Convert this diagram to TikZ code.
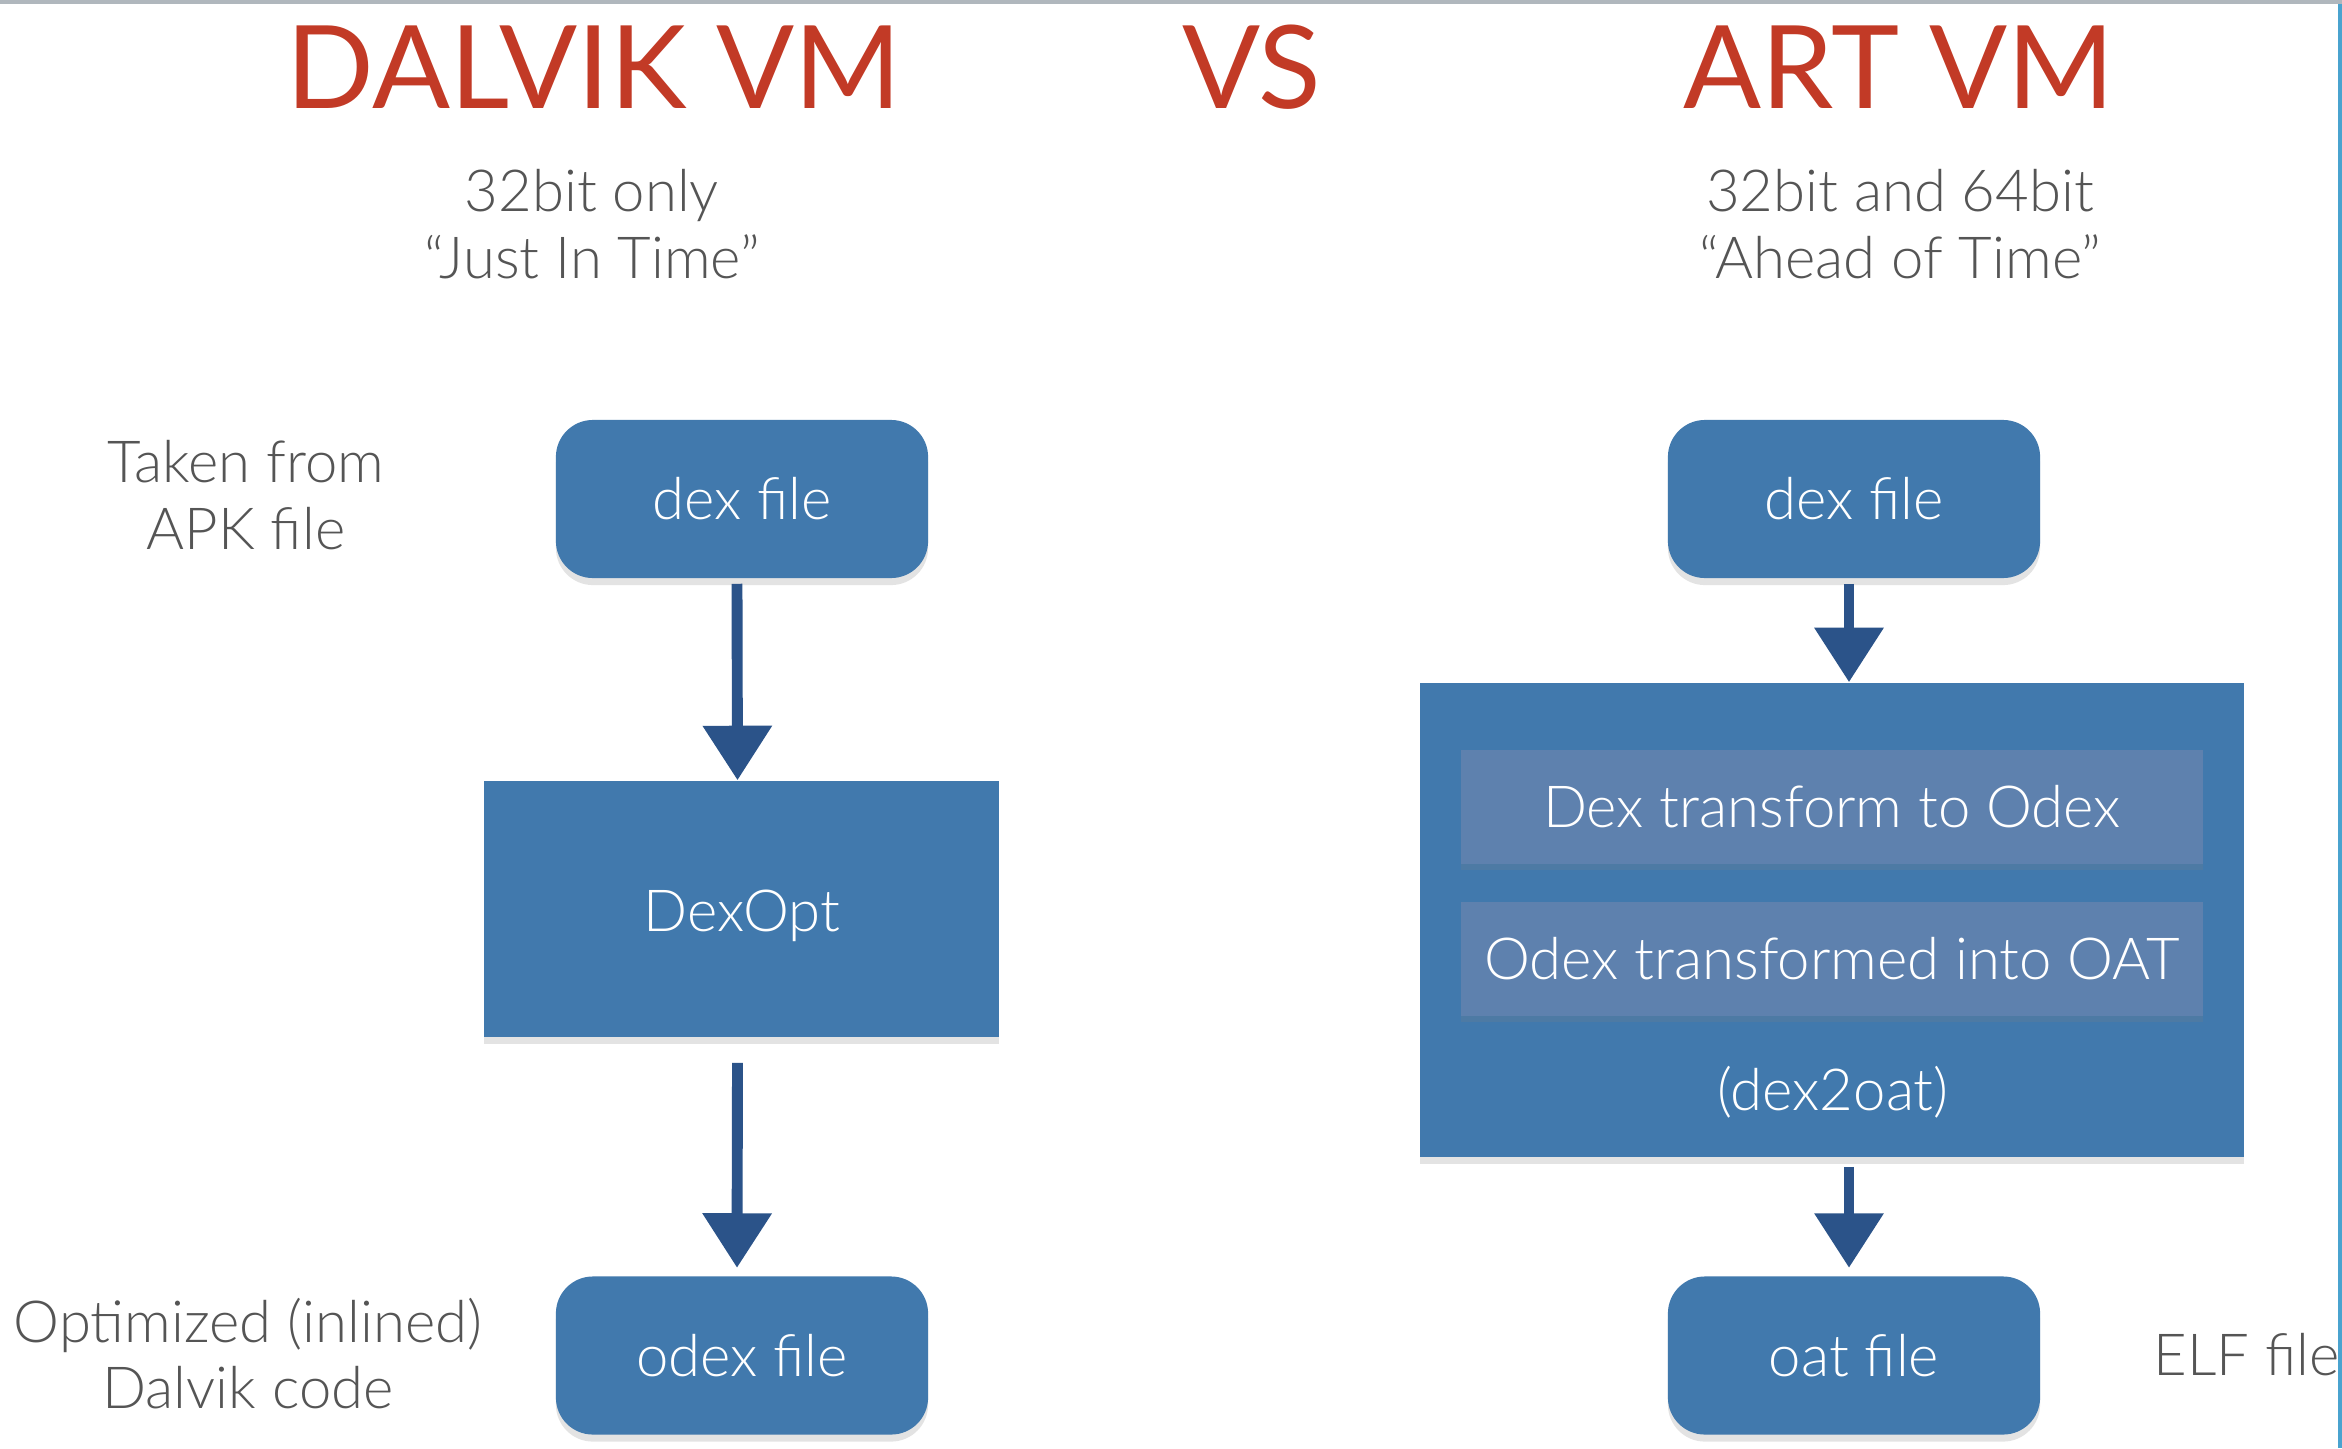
\documentclass[tikz,border=0pt]{standalone}
\usepackage{fontspec}
\setmainfont{Lato}
\newfontfamily\thinfont{Lato Light}
\usetikzlibrary{arrows.meta,shadows,calc}
\definecolor{boxblue}{HTML}{4179AD}
\definecolor{innerblue}{HTML}{5E81AE}
\definecolor{arrowblue}{HTML}{2B5389}
\definecolor{titlered}{HTML}{C23A26}
\definecolor{labelgray}{HTML}{555555}
\definecolor{topgray}{HTML}{B0B7BD}
\definecolor{sideblue}{HTML}{4AA3CF}
\tikzset{
  bodytext/.style={font=\thinfont\fontsize{16.5}{19}\selectfont},
  titletext/.style={font=\fontsize{32.8}{40}\selectfont, text=titlered, inner sep=0pt, anchor=base},
  subtext/.style={bodytext, text=labelgray, inner sep=0pt, anchor=base, align=center},
  roundbox/.style={bodytext, fill=boxblue, text=white, rounded corners=0.37cm,
    minimum width=3.72cm, minimum height=1.58cm, inner sep=0pt,
    drop shadow={opacity=0.22, shadow xshift=0pt, shadow yshift=-2pt}},
  squarebox/.style={bodytext, fill=boxblue, text=white, inner sep=0pt,
    drop shadow={opacity=0.22, shadow xshift=0pt, shadow yshift=-2pt}},
  innerbox/.style={bodytext, fill=innerblue, text=white, inner sep=0pt,
    minimum width=7.42cm, minimum height=1.13cm,
    drop shadow={opacity=0.2, shadow xshift=0pt, shadow yshift=-1.8pt}},
  flowarrow/.style={draw=arrowblue, line width=3.1pt,
    -{Triangle[width=19pt, length=15.5pt, fill=arrowblue]}},
}
\begin{document}
\begin{tikzpicture}[x=0.01cm,y=-0.01cm]
\useasboundingbox (0,0) rectangle (2342,1448);
\fill[white] (0,0) rectangle (2342,1448);
\fill[topgray] (0,0) rectangle (2342,4);
\fill[sideblue] (2338,4) rectangle (2342,1448);

% titles
\node[titletext] (tdalvik) at (594,108) {DALVIK VM};
\node[titletext] (tvs) at (1252,108) {VS};
\node[titletext] (tart) at (1899,108) {ART VM};

% subtitles
\node[subtext] (sl1) at (592,211) {32bit only};
\node[subtext] (sl2) at (592,278) {“Just In Time”};
\node[subtext] (sr1) at (1900,211) {32bit and 64bit};
\node[subtext] (sr2) at (1900,278) {“Ahead of Time”};

% side labels
\node[subtext] (apk1) at (246,482) {Taken from};
\node[subtext] (apk2) at (246,549) {APK file};
\node[subtext] (opt1) at (248,1342) {Optimized (inlined)};
\node[subtext] (opt2) at (248,1408) {Dalvik code};
\node[subtext, anchor=base west] (elf) at (2153,1375) {ELF file};

% Dalvik column
\node[roundbox] (dexL) at (742,499) {dex file};
\node[squarebox, minimum width=5.15cm, minimum height=2.56cm] (dexopt) at (741.5,909) {};
\node[subtext, text=white, anchor=center] (dexopttxt) at (742,916) {DexOpt};
\node[roundbox] (odex) at (742,1355.5) {odex file};

% ART column
\node[roundbox] (dexR) at (1854,499) {dex file};
\node[squarebox, minimum width=8.23cm, minimum height=4.74cm] (artbox) at (1832,920) {};
\node[innerbox] (in1) at (1832,807) {Dex transform to Odex};
\node[innerbox] (in2) at (1832,959) {Odex transformed into OAT};
\node[subtext, text=white, anchor=center] (d2o) at (1833,1092) {(dex2oat)};
\node[roundbox] (oat) at (1854,1355.5) {oat file};

% arrows
\draw[flowarrow] ($(dexL.south)+(-5,5)$) -- ($(dexopt.north)+(-4,0)$);
\draw[flowarrow] ($(dexopt.south)+(-4,25)$) -- ($(odex.north)+(-5,-8)$);
\draw[flowarrow] ($(dexR.south)+(-5,5)$) -- ($(artbox.north)+(17,0)$);
\draw[flowarrow] ($(artbox.south)+(17,9)$) -- ($(oat.north)+(-5,-8)$);
\end{tikzpicture}
\end{document}
